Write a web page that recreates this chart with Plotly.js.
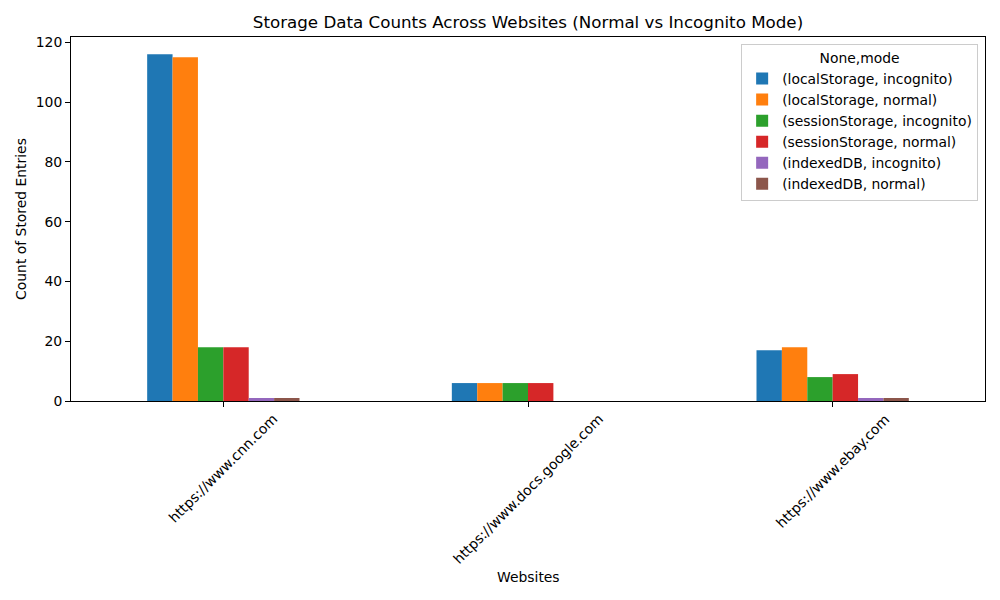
<!DOCTYPE html>
<html>
<head>
<meta charset="utf-8">
<script src="https://cdn.plot.ly/plotly-3.0.1.min.js"></script>
<style>body{margin:0;padding:0;background:#fff;}#chart{width:1000px;height:600px;}</style>
</head>
<body>
<div id="chart"></div>
<script>
const websites = ["https://www.cnn.com", "https://www.docs.google.com", "https://www.ebay.com"];
const seriesNames = ["(localStorage, incognito)", "(localStorage, normal)", "(sessionStorage, incognito)", "(sessionStorage, normal)", "(indexedDB, incognito)", "(indexedDB, normal)"];
const localStorageIncognito = [116, 6, 17];
const localStorageNormal = [115, 6, 18];
const sessionStorageIncognito = [18, 6, 8];
const sessionStorageNormal = [18, 6, 9];
const indexedDBIncognito = [1, 0, 1];
const indexedDBNormal = [1, 0, 1];
const seriesValues = [localStorageIncognito, localStorageNormal, sessionStorageIncognito, sessionStorageNormal, indexedDBIncognito, indexedDBNormal];
const colors = ["#1f77b4", "#ff7f0e", "#2ca02c", "#d62728", "#9467bd", "#8c564b"];

const font = "DejaVu Sans, sans-serif";
const fs = 13.9;
const xIdx = websites.map((w, i) => i);

const traces = seriesNames.map((name, k) => ({
  type: "bar",
  name: name,
  x: xIdx,
  y: seriesValues[k],
  marker: {color: colors[k], line: {width: 0}},
  hoverinfo: "y+name"
}));

const annotations = websites.map((w, i) => ({
  text: w,
  x: i, xref: "x",
  y: -0.02, yref: "paper",
  xanchor: "center", yanchor: "top",
  textangle: -45,
  showarrow: false,
  font: {family: font, size: fs, color: "#000"}
}));
annotations.push({
  text: "Websites",
  x: 0.5, xref: "paper", xanchor: "center",
  y: -0.4835, yref: "paper", yanchor: "middle",
  showarrow: false,
  font: {family: font, size: fs, color: "#000"}
});

const layout = {
  width: 1000, height: 600,
  paper_bgcolor: "#fff", plot_bgcolor: "#fff",
  margin: {l: 71, r: 15, t: 37, b: 199},
  font: {family: font, size: fs, color: "#000"},
  title: {text: "Storage Data Counts Across Websites (Normal vs Incognito Mode)", font: {family: font, size: 16.7, color: "#000"}, x: 0.528, xanchor: "center", y: 0.963, yanchor: "middle"},
  barmode: "group",
  bargap: 0.5,
  bargroupgap: 0,
  xaxis: {
    range: [-0.5, 2.5],
    tickvals: xIdx,
    ticktext: websites.map(() => ""),
    ticks: "outside", ticklen: 5, tickcolor: "#000",
    showline: true, mirror: true, linecolor: "#000", linewidth: 1,
    showgrid: false, zeroline: false
  },
  yaxis: {
    range: [0, 121.8],
    tickvals: [0, 20, 40, 60, 80, 100, 120],
    ticks: "outside", ticklen: 5, tickcolor: "#000",
    showline: true, mirror: true, linecolor: "#000", linewidth: 1,
    showgrid: false, zeroline: false,
    tickfont: {family: font, size: fs, color: "#000"},
    title: {text: "Count of Stored Entries", font: {family: font, size: fs, color: "#000"}, standoff: 5}
  },
  legend: {
    x: 0.9925, xanchor: "right", y: 0.981, yanchor: "top",
    bgcolor: "rgba(255,255,255,0.8)", bordercolor: "#cccccc", borderwidth: 1,
    font: {family: font, size: fs, color: "#000"},
    title: {text: "None,mode", side: "top center", font: {family: font, size: fs, color: "#000"}},
    tracegroupgap: 0, itemwidth: 30
  },
  annotations: annotations,
  showlegend: true
};

Plotly.newPlot("chart", traces, layout, {displayModeBar: false, staticPlot: true});
</script>
</body>
</html>
